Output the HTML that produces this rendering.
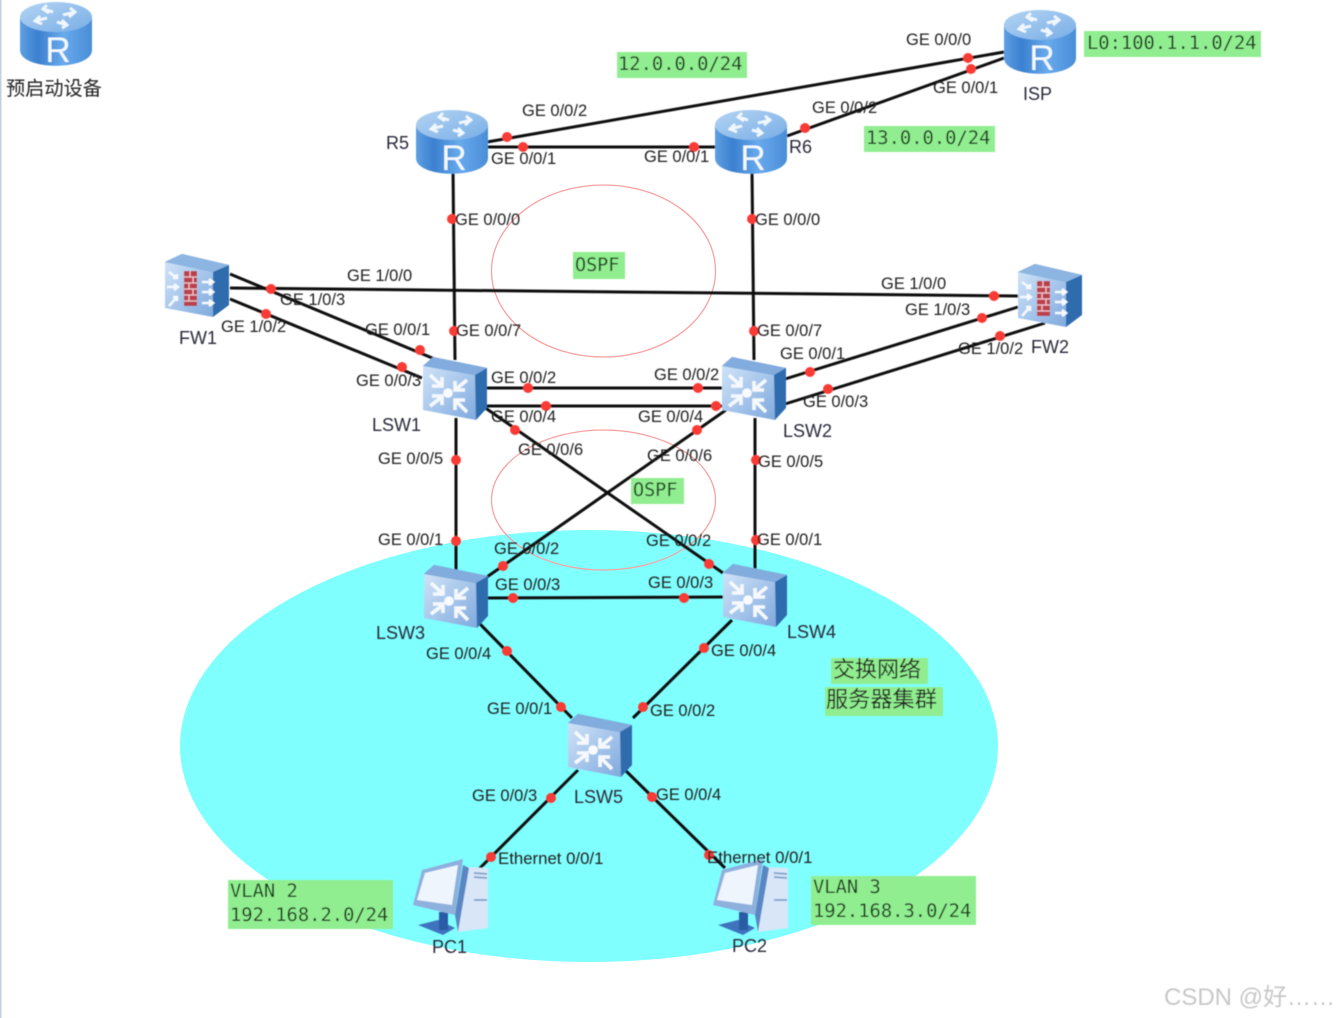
<!DOCTYPE html>
<html><head><meta charset="utf-8"><style>
html,body{margin:0;padding:0;background:#fff;width:1336px;height:1018px;overflow:hidden}
svg{display:block;position:absolute;left:0;top:0}
.t text{font-family:"Liberation Sans",sans-serif;font-size:16.5px;fill:#222}
.n text{font-family:"Liberation Sans",sans-serif;font-size:18px;fill:#2a2a3a}
.m{font-family:"DejaVu Sans Mono","Liberation Mono",monospace;font-size:18.8px;fill:#1e3a1e}
.c{font-family:"Liberation Sans","Noto Sans CJK SC",sans-serif;fill:#222}
.l line{stroke:#111;stroke-width:3}
.d circle{fill:#f93a35;r:5px}
</style></head><body>
<svg width="1336" height="1018" viewBox="0 0 1336 1018" xmlns="http://www.w3.org/2000/svg">
<defs>
<filter id="b" x="-5%" y="-5%" width="110%" height="110%"><feGaussianBlur stdDeviation="0.5"/></filter>
<linearGradient id="rb" x1="0" x2="1" y1="0" y2="0"><stop offset="0" stop-color="#5f9fe2"/><stop offset=".25" stop-color="#3b80d0"/><stop offset=".6" stop-color="#68aaec"/><stop offset="1" stop-color="#4a8dd8"/></linearGradient>
<linearGradient id="rt" x1="0" x2="1" y1="0" y2="1"><stop offset="0" stop-color="#b4d4f3"/><stop offset="1" stop-color="#78aee6"/></linearGradient>
<linearGradient id="sf" x1="0" x2="1" y1="0" y2="1"><stop offset="0" stop-color="#cfe3f8"/><stop offset="1" stop-color="#7fa9de"/></linearGradient>
<g id="router">
<path d="M-36,-16 V17 C-36,38 36,38 36,17 V-16 Z" fill="url(#rb)"/>
<ellipse cx="0" cy="-16" rx="36" ry="15" fill="url(#rt)"/>
<g stroke="#f1f7fe" stroke-width="2.800" fill="none">
<path d="M-21,-12 L-9,-15 M-16,-17 L-21,-12 L-14,-9"/>
<path d="M-13,-24 L-3,-21 M-9,-28 L-13,-24 L-7,-20"/>
<path d="M19,-21 L7,-18 M14,-25 L19,-21 L13,-16"/>
<path d="M11,-8 L1,-11 M6,-5 L11,-8 L6,-13"/>
</g>
<text x="2" y="29" text-anchor="middle" font-family="Liberation Sans,sans-serif" font-size="35" fill="#f4f9ff">R</text>
</g>
<g id="sw">
<path d="M-31,-23 L-21,-32 L33,-21 L33,19 L22,31 Z" fill="#2f6cae"/>
<path d="M-31,-23 L-21,-32 L33,-21 L21,-14 Z" fill="#82acde"/>
<path d="M-31,-23 L21,-14 L22,31 L-31,21 Z" fill="url(#sf)"/>
<g stroke="#f5f9fe" stroke-width="3.600" fill="none">
<path d="M-24,-14 L-12,-3 M-12,-12 V-3 H-22"/>
<path d="M13,-9 L1,1 M1,-8 V1 H11"/>
<path d="M-24,17 L-12,8 M-22,7 H-12 V16"/>
<path d="M13,23 L1,11 M11,11 H1 V21"/>
</g>
<circle cx="-6" cy="4" r="4.800" fill="#f8fbff"/>
</g>
<g id="fw">
<path d="M-32,-24 L-15,-32 L32,-21 L32,19 L16,31 Z" fill="#2f6cae"/>
<path d="M-32,-24 L-15,-32 L32,-21 L16,-14 Z" fill="#8cb5e2"/>
<path d="M-32,-24 L16,-14 L16,31 L-32,22 Z" fill="url(#sf)"/>
<rect x="-13" y="-15" width="13" height="35" fill="#bb3f4c"/>
<path d="M-13,-9 H0 M-13,-3 H0 M-13,3 H0 M-13,9 H0 M-13,15 H0 M-7,-15 V-9 M-4,-9 V-3 M-8,-3 V3 M-4,3 V9 M-8,9 V15" stroke="#eec6cb" stroke-width="1.300" fill="none"/>
<path d="M-28,-14 L-20,-8 M-24,-8 H-20 V-12 M-30,1 H-19 M-23,-2 L-19,1 L-23,4 M-28,20 L-20,11 M-24,11 H-20 V15 M5,-4 H16 M12,-7 L16,-4 L12,-1 M5,6 H16 M12,3 L16,6 L12,9 M5,17 H16 M12,14 L16,17 L12,20" stroke="#f5f9fe" stroke-width="2.500" fill="none"/>
</g>
<g id="pc">
<path d="M-32,28 L-12,23 L5,31 L-7,38 Z" fill="#3f73bd"/>
<rect x="-11" y="15" width="9" height="18" fill="#2b5ba6"/>
<path d="M13,-30 L38,-29 L38,31 L8,35 Z" fill="#d8e6f7"/>
<path d="M13,-32 L5,18 L8,35 L19,-29 Z" fill="#5a87c4"/>
<path d="M-28,-27 L13,-38 L5,18 L-37,8 Z" fill="#8db0dd"/>
<path d="M-25,-24 L8,-32 L2,8 L-33,3 Z" fill="#eff5fd"/>
<path d="M24,-24 L37,-23 M24,-20 L37,-19 M24,3 L37,3" stroke="#7da0cc" stroke-width="1.800"/>
</g>
</defs>

<rect x="0" y="0" width="1.500" height="1018" fill="#c2cfe0"/>
<ellipse cx="589" cy="746" rx="409" ry="216" fill="#80ffff"/>
<ellipse cx="603.500" cy="271" rx="112" ry="86" fill="none" stroke="#f7a3a3" stroke-width="1.300"/>
<ellipse cx="603.500" cy="500" rx="112" ry="70" fill="none" stroke="#f7a3a3" stroke-width="1.300"/>

<g filter="url(#b)">
<g class="l">
<line x1="487" y1="142" x2="1004" y2="52"/>
<line x1="787" y1="136" x2="1004" y2="58"/>
<line x1="487" y1="147" x2="716" y2="147"/>
<line x1="453" y1="170" x2="455" y2="360"/>
<line x1="752" y1="170" x2="754" y2="360"/>
<line x1="230" y1="288" x2="1018" y2="296"/>
<line x1="230" y1="274" x2="437" y2="360"/>
<line x1="230" y1="299" x2="422" y2="378"/>
<line x1="785" y1="379" x2="1018" y2="307"/>
<line x1="785" y1="404" x2="1045" y2="323"/>
<line x1="485" y1="388" x2="722" y2="388"/>
<line x1="485" y1="406" x2="722" y2="406"/>
<line x1="484" y1="407" x2="723" y2="573"/>
<line x1="726" y1="410" x2="484" y2="579"/>
<line x1="456" y1="418" x2="456" y2="570"/>
<line x1="755" y1="418" x2="755" y2="570"/>
<line x1="485" y1="598" x2="724" y2="597"/>
<line x1="480" y1="624" x2="572" y2="718"/>
<line x1="732" y1="620" x2="633" y2="718"/>
<line x1="578" y1="770" x2="478" y2="870"/>
<line x1="625" y1="770" x2="725" y2="868"/>
</g>

<use href="#router" x="56" y="33"/>
<use href="#router" x="1040" y="41"/>
<use href="#router" x="452" y="141"/>
<use href="#router" x="751" y="141"/>
<use href="#fw" x="197" y="286"/>
<use href="#fw" x="1050" y="296"/>
<use href="#sw" x="454" y="389"/>
<use href="#sw" x="753" y="389"/>
<use href="#sw" x="455" y="597"/>
<use href="#sw" x="754" y="596"/>
<use href="#sw" x="599" y="746"/>
<use href="#pc" x="450" y="897"/>
<use href="#pc" x="750" y="897"/>

<g class="d">
<circle cx="507" cy="137"/><circle cx="523" cy="147"/><circle cx="694" cy="147"/><circle cx="805" cy="128"/>
<circle cx="968" cy="58"/><circle cx="971" cy="69"/>
<circle cx="452" cy="219"/><circle cx="752" cy="219"/><circle cx="454" cy="331"/><circle cx="754" cy="331"/>
<circle cx="271" cy="289"/><circle cx="266" cy="314"/><circle cx="420" cy="350"/><circle cx="402" cy="367"/>
<circle cx="994" cy="296"/><circle cx="982" cy="318"/><circle cx="1000" cy="336"/><circle cx="810" cy="372"/><circle cx="828" cy="389"/>
<circle cx="528" cy="388"/><circle cx="698" cy="388"/><circle cx="546" cy="406"/><circle cx="716" cy="406"/>
<circle cx="515" cy="430"/><circle cx="697" cy="430"/>
<circle cx="456" cy="460"/><circle cx="756" cy="460"/><circle cx="456" cy="541"/><circle cx="756" cy="540"/>
<circle cx="503" cy="566"/><circle cx="709" cy="564"/><circle cx="513" cy="598"/><circle cx="684" cy="598"/>
<circle cx="507" cy="651"/><circle cx="704" cy="648"/><circle cx="561" cy="707"/><circle cx="643" cy="707"/>
<circle cx="551" cy="798"/><circle cx="652" cy="797"/><circle cx="491" cy="857"/><circle cx="709" cy="855"/>
</g>

<g class="t">
<text x="522" y="116">GE 0/0/2</text><text x="491" y="164">GE 0/0/1</text><text x="644" y="162">GE 0/0/1</text>
<text x="812" y="113">GE 0/0/2</text><text x="906" y="45">GE 0/0/0</text><text x="933" y="93">GE 0/0/1</text>
<text x="455" y="225">GE 0/0/0</text><text x="755" y="225">GE 0/0/0</text>
<text x="347" y="281">GE 1/0/0</text><text x="280" y="305">GE 1/0/3</text><text x="221" y="332">GE 1/0/2</text>
<text x="881" y="289">GE 1/0/0</text><text x="905" y="315">GE 1/0/3</text><text x="958" y="354">GE 1/0/2</text>
<text x="365" y="335">GE 0/0/1</text><text x="456" y="336">GE 0/0/7</text><text x="356" y="386">GE 0/0/3</text>
<text x="757" y="336">GE 0/0/7</text><text x="780" y="359">GE 0/0/1</text><text x="803" y="407">GE 0/0/3</text>
<text x="491" y="383">GE 0/0/2</text><text x="654" y="380">GE 0/0/2</text><text x="491" y="422">GE 0/0/4</text><text x="638" y="422">GE 0/0/4</text>
<text x="518" y="455">GE 0/0/6</text><text x="647" y="461">GE 0/0/6</text>
<text x="378" y="464">GE 0/0/5</text><text x="758" y="467">GE 0/0/5</text>
<text x="378" y="545">GE 0/0/1</text><text x="757" y="545">GE 0/0/1</text>
<text x="494" y="554">GE 0/0/2</text><text x="646" y="546">GE 0/0/2</text>
<text x="495" y="590">GE 0/0/3</text><text x="648" y="588">GE 0/0/3</text>
<text x="426" y="659">GE 0/0/4</text><text x="711" y="656">GE 0/0/4</text>
<text x="487" y="714">GE 0/0/1</text><text x="650" y="716">GE 0/0/2</text>
<text x="472" y="801">GE 0/0/3</text><text x="656" y="800">GE 0/0/4</text>
<text x="498" y="864" style="font-size:16.800px">Ethernet 0/0/1</text><text x="707" y="863" style="font-size:16.800px">Ethernet 0/0/1</text>
</g>
<g class="n">
<text x="386" y="149">R5</text><text x="789" y="153">R6</text><text x="1023" y="100">ISP</text>
<text x="179" y="344">FW1</text><text x="1031" y="353">FW2</text>
<text x="372" y="431">LSW1</text><text x="783" y="437">LSW2</text>
<text x="376" y="639">LSW3</text><text x="787" y="638">LSW4</text>
<text x="574" y="803">LSW5</text><text x="432" y="953">PC1</text><text x="732" y="952">PC2</text>
</g>

<rect x="617" y="52" width="130" height="26" fill="#90ee90"/><text class="m" x="618" y="70">12.0.0.0/24</text>
<rect x="864" y="126" width="131" height="26" fill="#90ee90"/><text class="m" x="866" y="144">13.0.0.0/24</text>
<rect x="1084" y="31" width="177" height="26" fill="#90ee90"/><text class="m" x="1087" y="49">L0:100.1.1.0/24</text>
<rect x="573" y="252" width="52" height="27" fill="#90ee90"/><text class="m" x="575" y="271" style="font-size:18.400px">OSPF</text>
<rect x="631" y="478" width="53" height="26" fill="#90ee90"/><text class="m" x="633" y="496" style="font-size:18.400px">OSPF</text>
<rect x="228" y="880" width="165" height="49" fill="#90ee90"/>
<text class="m" x="230" y="897">VLAN 2</text><text class="m" x="230" y="921">192.168.2.0/24</text>
<rect x="811" y="876" width="165" height="49" fill="#90ee90"/>
<text class="m" x="813" y="893">VLAN 3</text><text class="m" x="813" y="917">192.168.3.0/24</text>
<rect x="831" y="658" width="97" height="26" fill="#90ee90"/>
<text class="c" x="833" y="677" font-size="22">交换网络</text>
<rect x="825" y="687" width="118" height="29" fill="#90ee90"/>
<text class="c" x="826" y="707" font-size="22.200">服务器集群</text>
<text class="c" x="6" y="95" font-size="19.200">预启动设备</text>
<text class="c" x="1164" y="1005" font-size="24" style="fill:#c8c8c8">CSDN @好……</text>
</g>
</svg>
</body></html>
